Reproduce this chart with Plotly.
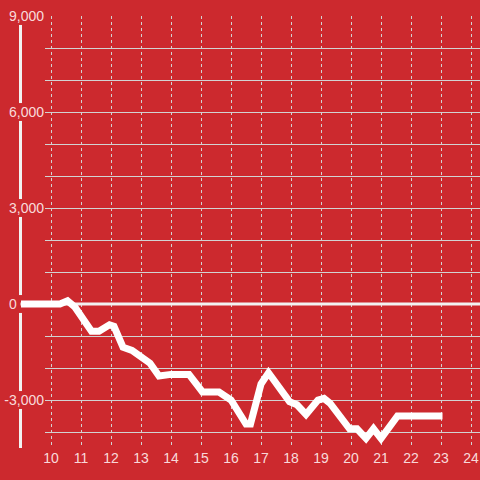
import plotly.graph_objects as go

# Data
x_vals = [9.0, 10.3, 10.55, 10.8, 11.35, 11.6, 11.95, 12.1, 12.4, 12.7, 13.3, 13.6, 14.0, 14.6,
          15.05, 15.6, 16.0, 16.5, 16.65, 17.0, 17.25, 17.95, 18.2, 18.5, 18.9, 19.1, 19.3,
          19.95, 20.2, 20.5, 20.75, 21.0, 21.55, 23.05]
y_vals = [0, 0, 100, -100, -850, -850, -650, -700, -1350, -1450, -1850, -2250, -2200, -2200,
          -2750, -2750, -3000, -3750, -3750, -2500, -2150, -3050, -3150, -3450, -3000, -2950, -3100,
          -3900, -3900, -4200, -3900, -4200, -3500, -3500]

x_ticks = list(range(10, 25))
y_ticks = [-3000, 0, 3000, 6000, 9000]
y_tick_text = ["-3,000", "0" + "\u00a0" * 7, "3,000", "6,000", "9,000"]

X_MIN, X_MAX = 9 - 2 / 30, 24.3
Y_MIN, Y_MAX = -4500, 9000
AXIS_X = X_MIN + 1.5 / 30

BG = "#cc292e"
TXT = "rgba(255,240,240,0.9)"
GRID = "#d2d2d2"
AXIS = "#f2f2f2"

fig = go.Figure()
fig.add_trace(go.Scatter(x=x_vals, y=y_vals, mode="lines",
                         line=dict(color="white", width=7), hoverinfo="skip"))

shapes = []
# hide gridlines left of the labels
shapes.append(dict(type="rect", xref="x", yref="y", x0=X_MIN, x1=9.8, y0=Y_MIN, y1=Y_MAX,
                   fillcolor=BG, line_width=0, layer="between"))
# zero line
shapes.append(dict(type="line", xref="x", yref="y", x0=AXIS_X, x1=X_MAX, y0=0, y1=0,
                   line=dict(color=AXIS, width=3), layer="between"))
# axis line with gaps behind labels
gap = 280
segs = [(Y_MIN, -3000 - gap), (-3000 + gap, -gap), (gap, 3000 - gap), (3000 + gap, 6000 - gap),
        (6000 + gap, 9000 - gap)]
for a, b in segs:
    shapes.append(dict(type="line", xref="x", yref="y", x0=AXIS_X, x1=AXIS_X, y0=a, y1=b,
                       line=dict(color=AXIS, width=3), layer="between"))

fig.update_layout(
    width=480, height=480,
    margin=dict(l=19, r=0, t=16, b=32, autoexpand=False),
    paper_bgcolor=BG, plot_bgcolor=BG,
    showlegend=False,
    font=dict(family="Liberation Sans, Arial, sans-serif", size=14, color=TXT),
    shapes=shapes,
    xaxis=dict(range=[X_MIN, X_MAX], tickmode="array", tickvals=x_ticks,
               showgrid=True, gridcolor=GRID, griddash="dot", gridwidth=1,
               zeroline=False, showline=False, ticks="", automargin=False,
               tickfont=dict(size=14, color=TXT)),
    yaxis=dict(range=[Y_MIN, Y_MAX], tickmode="array", tickvals=y_ticks, ticktext=y_tick_text,
               showgrid=True, gridcolor=GRID, gridwidth=1,
               minor=dict(dtick=1000, tick0=0, showgrid=True, gridcolor=GRID, gridwidth=1),
               zeroline=False, showline=False, ticks="", automargin=False,
               ticklabelstandoff=-26,
               tickfont=dict(size=14, color=TXT)),
)

fig.write_html("out.html", config={"displayModeBar": False},
               post_script="document.body.style.margin='0';document.body.style.overflow='hidden';")
